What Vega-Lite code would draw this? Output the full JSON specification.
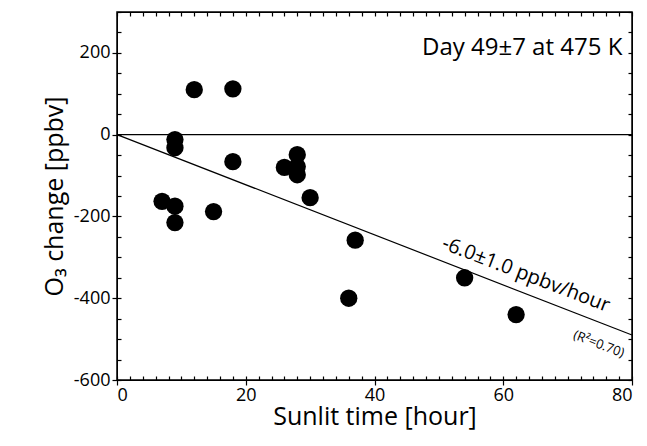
{
  "$schema": "https://vega.github.io/schema/vega-lite/v6.json",
  "width": 515,
  "height": 368,
  "padding": {"left": 117, "top": 12, "right": 15, "bottom": 66},
  "autosize": {"type": "none"},
  "background": "white",
  "config": {
    "view": {"stroke": "black", "strokeWidth": 1.5},
    "font": "Open Sans",
    "axis": {"grid": false, "domainColor": "black", "tickColor": "black", "labelColor": "black", "titleColor": "black", "labelFontSize": 18, "titleFontSize": 25, "titleFontWeight": "normal", "tickSize": 5, "tickWidth": 1.2, "labelExpr": "replace(datum.label, '−', '-')"}
  },
  "datasets": {
    "pts": [
      {"t": 12, "o3": 110}, {"t": 18, "o3": 112}, {"t": 9, "o3": -12}, {"t": 9, "o3": -32},
      {"t": 18, "o3": -66}, {"t": 28, "o3": -49}, {"t": 26, "o3": -80}, {"t": 28, "o3": -78},
      {"t": 28, "o3": -98}, {"t": 30, "o3": -154}, {"t": 7, "o3": -163}, {"t": 9, "o3": -175},
      {"t": 9, "o3": -215}, {"t": 15, "o3": -188}, {"t": 37, "o3": -258}, {"t": 36, "o3": -400},
      {"t": 54, "o3": -350}, {"t": 62, "o3": -440}
    ],
    "fit": [{"t": 0, "o3": 0}, {"t": 80, "o3": -490}],
    "zero": [{"t": 0, "o3": 0}, {"t": 80, "o3": 0}]
  },
  "layer": [
    {
      "data": {"name": "zero"},
      "mark": {"type": "line", "color": "black", "strokeWidth": 1.2},
      "encoding": {
        "x": {"field": "t", "type": "quantitative", "scale": {"domain": [0, 80], "nice": false}, "axis": {"title": "Sunlit time [hour]", "values": [0, 20, 40, 60, 80], "titlePadding": 0, "labelPadding": 1}},
        "y": {"field": "o3", "type": "quantitative", "scale": {"domain": [-600, 300], "nice": false}, "axis": {"title": "O₃ change [ppbv]", "values": [-600, -400, -200, 0, 200], "titlePadding": 6, "labelPadding": 2}}
      }
    },
    {
      "data": {"name": "zero"},
      "mark": {"type": "tick", "opacity": 0},
      "encoding": {
        "x": {"field": "t", "type": "quantitative", "axis": {"orient": "bottom", "title": null, "labels": false, "domain": false, "values": [0,2,4,6,8,10,12,14,16,18,20,22,24,26,28,30,32,34,36,38,40,42,44,46,48,50,52,54,56,58,60,62,64,66,68,70,72,74,76,78,80], "tickSize": -4}},
        "y": {"field": "o3", "type": "quantitative", "axis": {"orient": "left", "title": null, "labels": false, "domain": false, "values": [-600,-550,-500,-450,-400,-350,-300,-250,-200,-150,-100,-50,0,50,100,150,200,250,300], "tickSize": -4}}
      }
    },
    {
      "data": {"name": "zero"},
      "mark": {"type": "tick", "opacity": 0},
      "encoding": {
        "x": {"field": "t", "type": "quantitative", "axis": {"orient": "top", "title": null, "labels": false, "values": [0,2,4,6,8,10,12,14,16,18,20,22,24,26,28,30,32,34,36,38,40,42,44,46,48,50,52,54,56,58,60,62,64,66,68,70,72,74,76,78,80], "tickSize": -4}},
        "y": {"field": "o3", "type": "quantitative", "axis": {"orient": "right", "title": null, "labels": false, "values": [-600,-550,-500,-450,-400,-350,-300,-250,-200,-150,-100,-50,0,50,100,150,200,250,300], "tickSize": -4}}
      }
    },
    {
      "data": {"name": "fit"},
      "mark": {"type": "line", "color": "black", "strokeWidth": 1.2},
      "encoding": {"x": {"field": "t", "type": "quantitative", "axis": null}, "y": {"field": "o3", "type": "quantitative", "axis": null}}
    },
    {
      "data": {"name": "pts"},
      "mark": {"type": "circle", "color": "black", "opacity": 1, "size": 300},
      "encoding": {"x": {"field": "t", "type": "quantitative", "axis": null}, "y": {"field": "o3", "type": "quantitative", "axis": null}}
    },
    {
      "data": {"values": [{"t": 62.8, "o3": -372, "txt": "-6.0±1.0 ppbv/hour"}]},
      "mark": {"type": "text", "angle": 21, "color": "black", "fontSize": 20, "dy": -13},
      "encoding": {"x": {"field": "t", "type": "quantitative", "axis": null}, "y": {"field": "o3", "type": "quantitative", "axis": null}, "text": {"field": "txt"}}
    },
    {
      "data": {"values": [{"t": 75.5, "o3": -485, "txt": "(R²=0.70)"}]},
      "mark": {"type": "text", "angle": 21, "color": "black", "fontSize": 13, "dy": 12},
      "encoding": {"x": {"field": "t", "type": "quantitative", "axis": null}, "y": {"field": "o3", "type": "quantitative", "axis": null}, "text": {"field": "txt"}}
    },
    {
      "data": {"values": [{"t": 78.5, "o3": 212, "txt": "Day 49±7 at 475 K"}]},
      "mark": {"type": "text", "align": "right", "fontSize": 24, "color": "black"},
      "encoding": {"x": {"field": "t", "type": "quantitative", "axis": null}, "y": {"field": "o3", "type": "quantitative", "axis": null}, "text": {"field": "txt"}}
    }
  ],
  "resolve": {"axis": {"x": "independent", "y": "independent"}}
}
